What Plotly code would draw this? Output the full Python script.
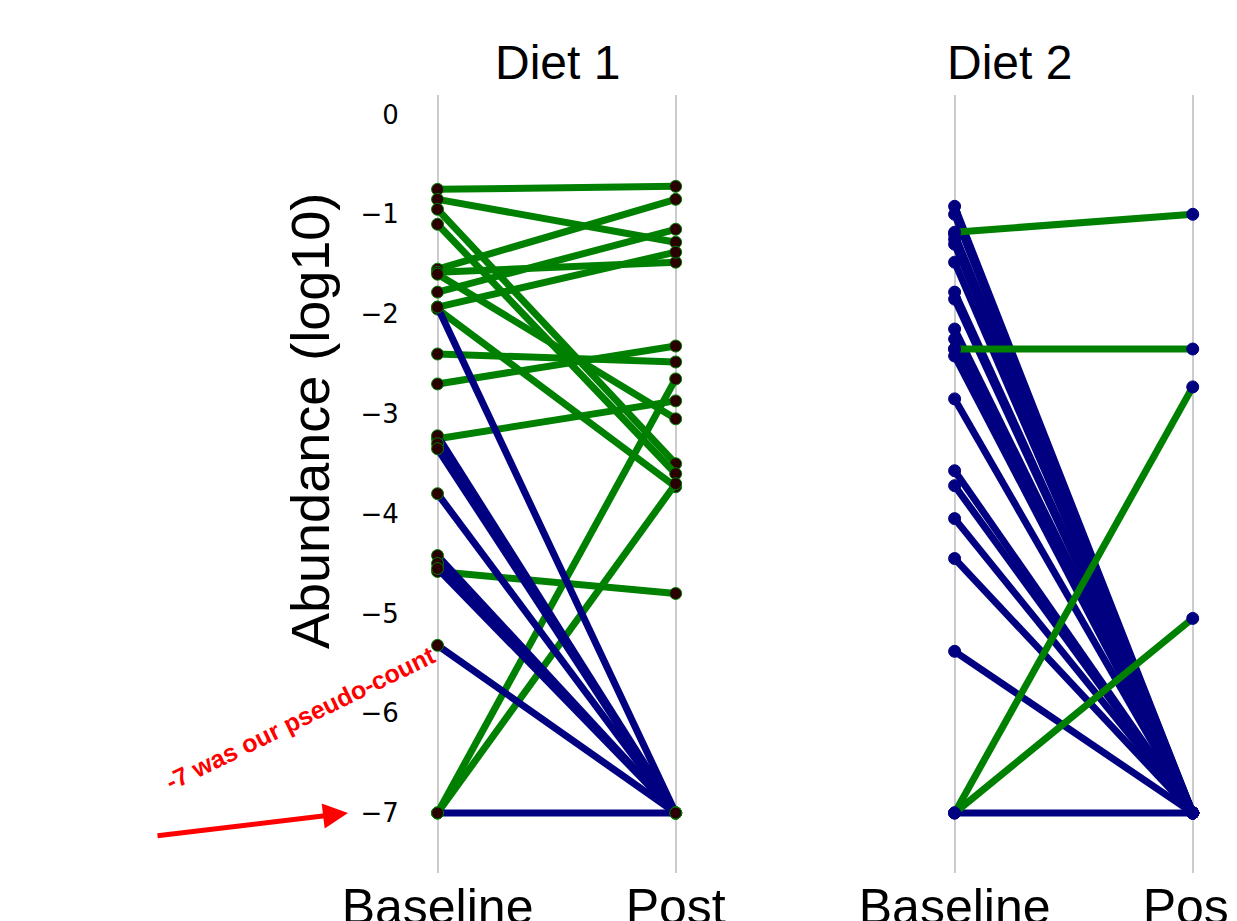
import plotly.graph_objects as go

# Diet 1 (baseline, post) pairs in log10 abundance
d1_green_base = [-0.75, -0.85, -0.95, -1.1, -1.55, -1.58, -1.78, -1.93, -1.95, -1.6, -2.4, -2.7, -3.25, -4.58, -7.0, -7.0]
d1_green_post = [-0.72, -1.28, -3.5, -3.6, -0.85, -1.48, -1.15, -1.38, -3.73, -3.05, -2.48, -2.32, -2.87, -4.8, -2.65, -3.7]
d1_blue_base = [-1.93, -3.22, -3.3, -3.35, -3.8, -4.42, -4.5, -4.55, -5.32, -7.0]
d1_blue_post = [-7.0] * len(d1_blue_base)

# Diet 2
d2_green_base = [-1.18, -2.35, -7.0, -7.0]
d2_green_post = [-1.0, -2.35, -2.73, -5.05]
d2_blue_base = [-0.92, -1.0, -1.2, -1.25, -1.3, -1.48, -1.78, -1.85, -2.15, -2.25, -2.35,
                -2.42, -2.85, -3.57, -3.72, -4.05, -4.45, -5.38, -7.0]
d2_blue_post = [-7.0] * len(d2_blue_base)

timepoints = ["Baseline", "Post"]
GREEN = "#008000"
BLUE = "#000080"

fig = go.Figure()


def add_lines(base, post, color, xa, ya, mcolor, mline):
    for b, p in zip(base, post):
        fig.add_trace(go.Scatter(
            x=[0, 1], y=[b, p], mode="lines+markers",
            line=dict(color=color, width=7),
            marker=dict(size=12, color=mcolor, line=dict(color=GREEN if mline else mcolor, width=1)),
            xaxis=xa, yaxis=ya, showlegend=False, hoverinfo="skip"))


add_lines(d1_green_base, d1_green_post, GREEN, "x", "y", "#2b0000", True)
add_lines(d1_blue_base, d1_blue_post, BLUE, "x", "y", "#2b0000", True)
add_lines(d2_blue_base, d2_blue_post, BLUE, "x2", "y2", BLUE, False)
add_lines(d2_green_base, d2_green_post, GREEN, "x2", "y2", BLUE, False)

xcommon = dict(range=[-0.1, 1.1], tickvals=[0, 1], ticktext=timepoints, automargin=False,
               showgrid=True, gridcolor="#cccccc", gridwidth=2, zeroline=False,
               showline=False, tickfont=dict(size=50, family="Liberation Sans", color="black"))
ycommon = dict(range=[-7.6, 0.2], tickvals=list(range(0, -8, -1)), automargin=False,
               showgrid=False, zeroline=False, showline=False, domain=[0.061, 0.906])

fig.update_layout(
    width=1237, height=921, autosize=False,
    margin=dict(l=0, r=0, t=0, b=0, autoexpand=False),
    plot_bgcolor="white", paper_bgcolor="white",
    xaxis=dict(domain=[0.328, 0.559], **xcommon),
    xaxis2=dict(domain=[0.746, 0.977], **xcommon),
    yaxis=dict(anchor="x", ticklabelstandoff=14, tickfont=dict(size=26, family="DejaVu Sans", color="black"),
               ticktext=["0", "−1", "−2", "−3", "−4", "−5", "−6", "−7"], **ycommon),
    yaxis2=dict(anchor="x2", showticklabels=False, **ycommon),
    font=dict(family="Liberation Sans", color="black"),
)

fig.add_annotation(text="Diet 1", x=549 / 1237, y=1 - 26 / 921, xref="paper", yref="paper",
                   showarrow=False, font=dict(size=48))
fig.add_annotation(text="Diet 2", x=1066 / 1237, y=1 - 26 / 921, xref="paper", yref="paper",
                   showarrow=False, font=dict(size=48))
fig.add_annotation(text="Abundance (log10)", x=270 / 1237, y=1 - 413 / 921, xref="paper", yref="paper",
                   showarrow=False, textangle=-90, font=dict(size=54))
fig.add_annotation(text="<b>-7 was our pseudo-count</b>", x=150 / 1237, y=1 - 790 / 921,
                   xref="paper", yref="paper", showarrow=False, textangle=-26,
                   font=dict(size=25, color="red"))
fig.add_annotation(text="", x=340 / 1237, y=1 - 805 / 921, xref="paper", yref="paper",
                   ax=-192, ay=23, showarrow=True, arrowhead=2, arrowsize=1,
                   arrowwidth=5, arrowcolor="red")

fig.write_html("out.html")
